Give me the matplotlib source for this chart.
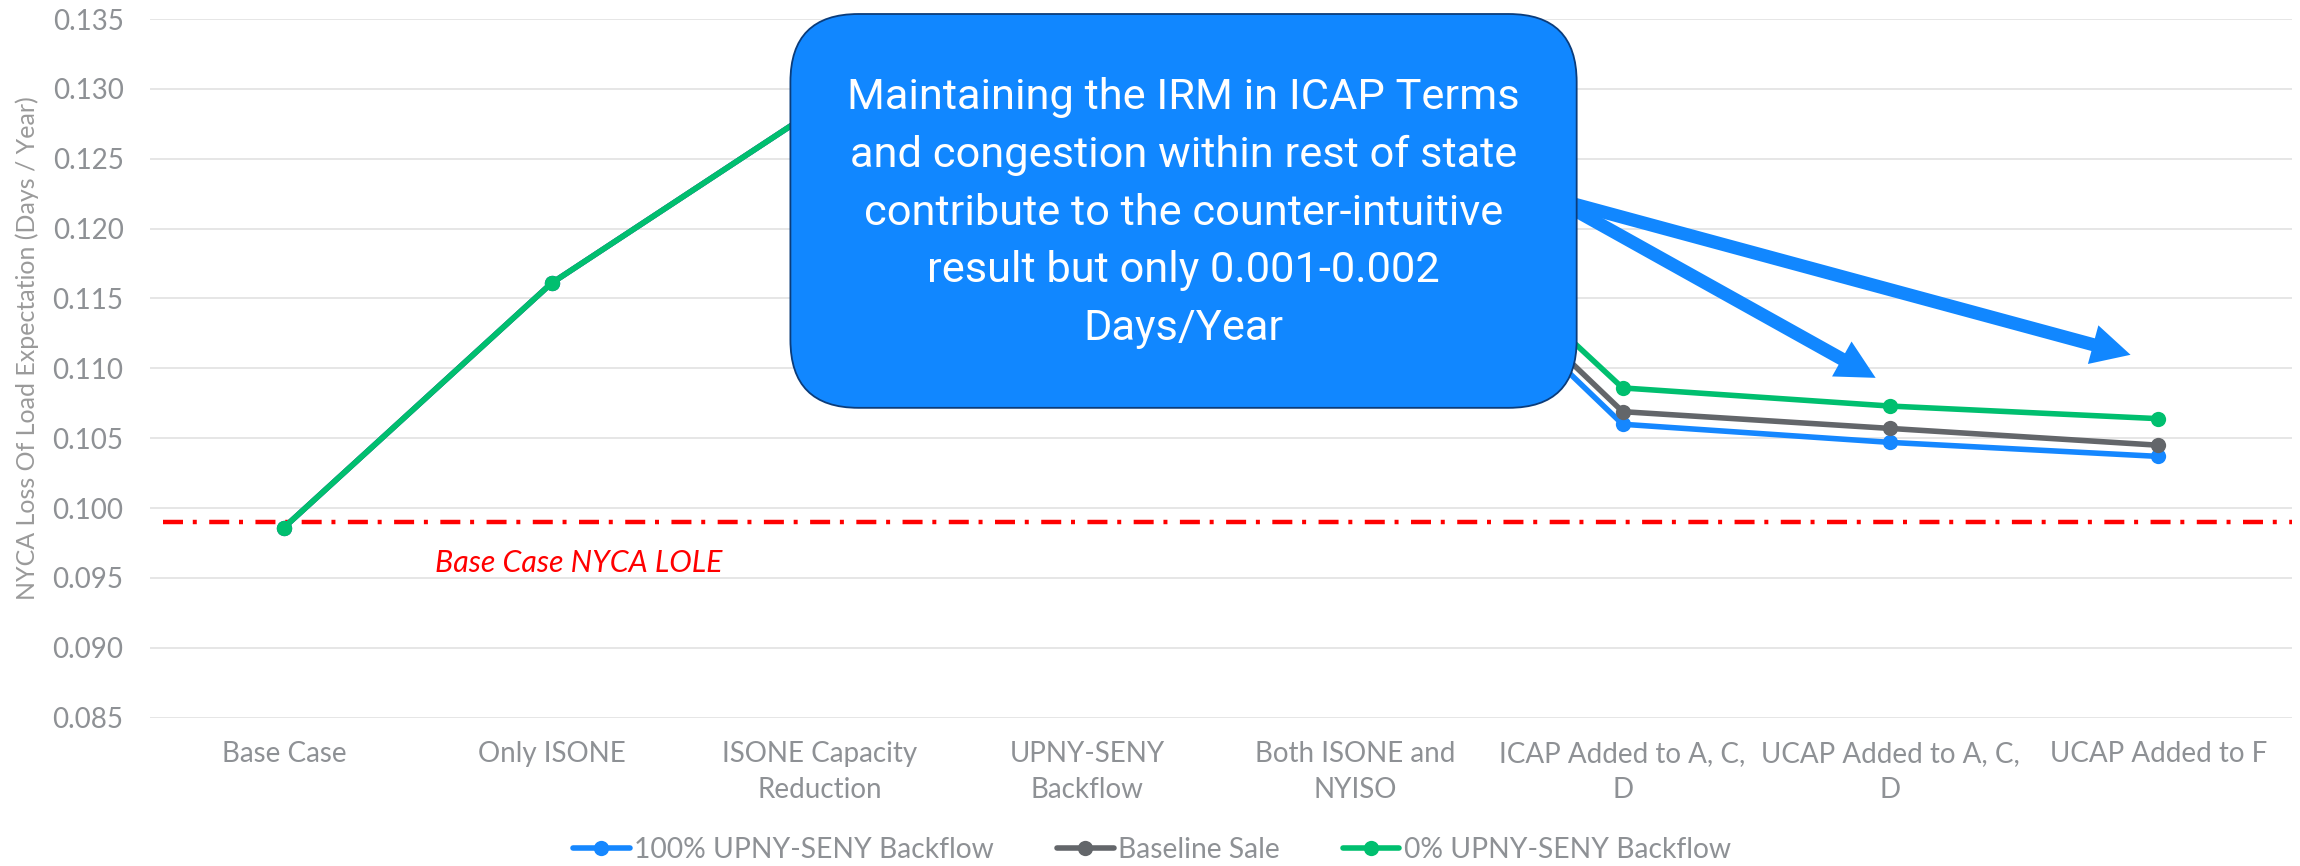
import matplotlib
matplotlib.use("Agg")
import matplotlib.pyplot as plt
from matplotlib.patches import FancyBboxPatch, FancyArrowPatch

# ---------------- data ----------------
categories = ["Base Case", "Only ISONE", "ISONE Capacity\nReduction", "UPNY-SENY\nBackflow",
              "Both ISONE and\nNYISO", "ICAP Added to A, C,\nD", "UCAP Added to A, C,\nD",
              "UCAP Added to F"]
series_names = ["100% UPNY-SENY Backflow", "Baseline Sale", "0% UPNY-SENY Backflow"]
blue_vals = [0.0986, 0.1161, 0.1287, 0.1265, 0.1244, 0.1060, 0.1047, 0.1037]
gray_vals = [0.0986, 0.1161, 0.1287, 0.1275, 0.1252, 0.1069, 0.1057, 0.1045]
green_vals = [0.0986, 0.1161, 0.1287, 0.1290, 0.1264, 0.1086, 0.1073, 0.1064]
base_lole = 0.099
yticks = [0.085, 0.090, 0.095, 0.100, 0.105, 0.110, 0.115, 0.120, 0.125, 0.130, 0.135]
callout = ("Maintaining the IRM in ICAP Terms\nand congestion within rest of state\n"
           "contribute to the counter-intuitive\nresult but only 0.001-0.002\nDays/Year")

colors = ["#1587FF", "#63666A", "#00BF6F"]
tick_color = "#8E9195"

fig = plt.figure(figsize=(23, 8.66), dpi=100)
ax = fig.add_axes([150/2300, 1-717.7/866, (2292-150)/2300, (717.7-19)/866])

x = list(range(len(categories)))
for vals, name, c in zip([blue_vals, gray_vals, green_vals], series_names, colors):
    ax.plot(x, vals, color=c, lw=4.0, marker="o", markersize=11, markeredgewidth=0,
            label=name, zorder=3, solid_capstyle="round")

ax.plot([-0.45, 7.5], [base_lole, base_lole], color="#FF0000", lw=3.2,
        linestyle=(0, (4.5, 2.2, 0.9, 2.8)), zorder=2)
ax.text(1.10, 0.0961, "Base Case NYCA LOLE", color="#FF0000", fontstyle="italic",
        fontsize=21.8, family="Lato", ha="center", va="center")

ax.set_xlim(-0.5, 7.5)
ax.set_ylim(0.085, 0.135)
ax.set_yticks(yticks)
ax.set_yticklabels([f"{v:.3f}" for v in yticks])
ax.set_xticks(x)
ax.set_xticklabels(categories)
for s in ax.spines.values():
    s.set_visible(False)
ax.tick_params(axis="both", length=0, colors=tick_color, labelsize=20)
ax.tick_params(axis="y", pad=19)
ax.tick_params(axis="x", pad=17)
for lab in ax.get_xticklabels():
    lab.set_family("Lato")
    lab.set_linespacing(1.45)
for lab in ax.get_yticklabels():
    lab.set_family("Lato")
ax.grid(axis="y", color="#E6E6E6", lw=1.4)
ax.set_axisbelow(True)

fig.text(27/2300, 1-348/866, "NYCA Loss Of Load Expectation (Days / Year)", rotation=90,
         ha="center", va="center", fontsize=18, color="#9A9A9A", family="Lato")

# arrows (annotation)
for (x0, y0), (x1, y1) in [((4.76, 0.12198), (5.945, 0.10932)),
                           ((4.76, 0.12206), (6.897, 0.11097))]:
    arr = FancyArrowPatch((x0, y0), (x1, y1),
                          arrowstyle="simple,head_width=3.2,head_length=3.1,tail_width=1.05",
                          mutation_scale=9, color="#1187FF", lw=0, zorder=4,
                          shrinkA=0, shrinkB=0)
    ax.add_patch(arr)

# callout box
bx0, bx1 = (791-284)/268, (1578-284)/268
by0, by1 = 0.135-(408-19)/13.98*0.001, 0.135+(19-14)/13.98*0.001
aspect = (0.001/13.98)/(1/268)
box = FancyBboxPatch((bx0, by0), bx1-bx0, by1-by0,
                     boxstyle=f"round,pad=0,rounding_size={68/268}",
                     mutation_aspect=aspect, facecolor="#1187FF", edgecolor="#0B3C7A",
                     lw=1.3, zorder=5, clip_on=False)
ax.add_patch(box)
ax.text((bx0+bx1)/2, 0.135-(213-19)/13.98*0.001, callout, color="white", fontsize=31.2,
        family="Roboto", ha="center", va="center", linespacing=1.52, zorder=6)

leg = ax.legend(loc="center", bbox_to_anchor=(1152/2300, 1-850/866), ncol=3,
                frameon=False, fontsize=20.3, handlelength=2.0, handletextpad=0.15,
                columnspacing=2.25, bbox_transform=fig.transFigure)
for t in leg.get_texts():
    t.set_color(tick_color)
    t.set_family("Lato")

fig.savefig("out.png", dpi=100)
